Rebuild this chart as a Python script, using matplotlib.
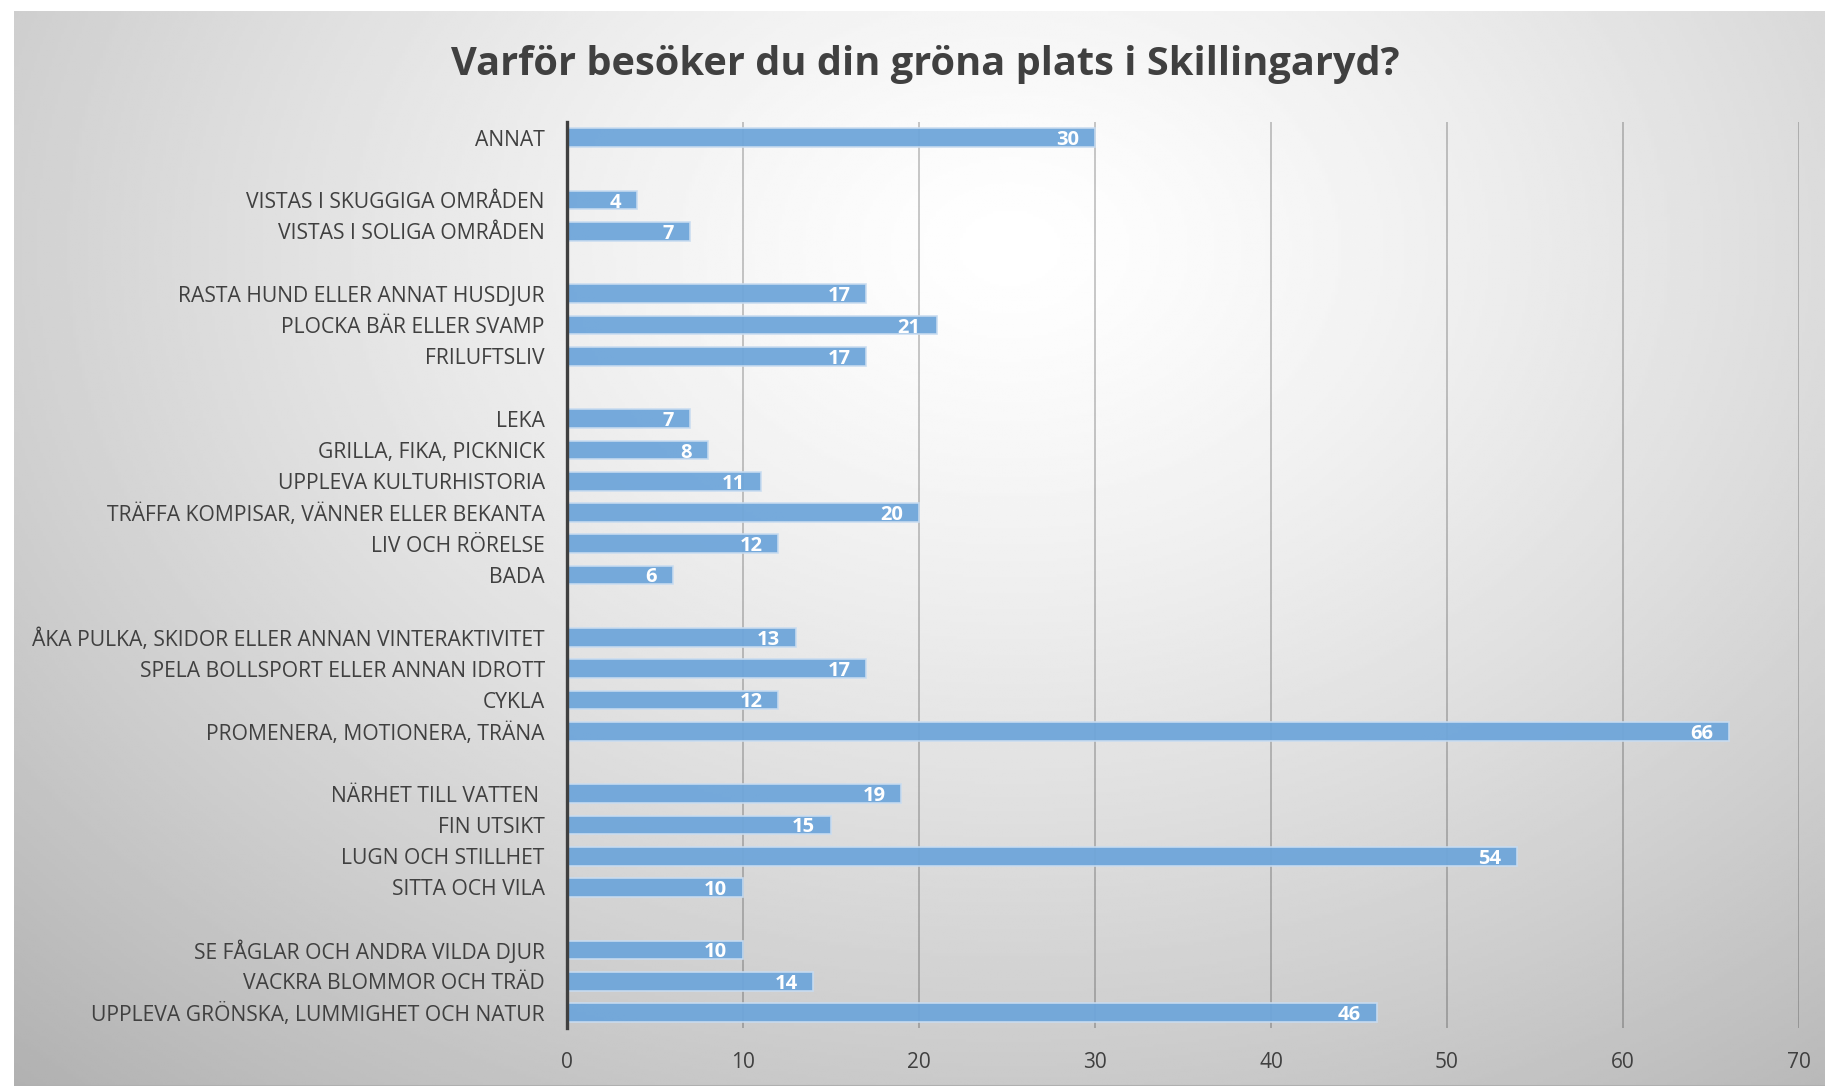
import numpy as np
import matplotlib.pyplot as plt

# rows from top to bottom, '' = empty spacer row
categories = [
    'ANNAT', '',
    'VISTAS I SKUGGIGA OMRÅDEN', 'VISTAS I SOLIGA OMRÅDEN', '',
    'RASTA HUND ELLER ANNAT HUSDJUR', 'PLOCKA BÄR ELLER SVAMP', 'FRILUFTSLIV', '',
    'LEKA', 'GRILLA, FIKA, PICKNICK', 'UPPLEVA KULTURHISTORIA',
    'TRÄFFA KOMPISAR, VÄNNER ELLER BEKANTA', 'LIV OCH RÖRELSE', 'BADA', '',
    'ÅKA PULKA, SKIDOR ELLER ANNAN VINTERAKTIVITET', 'SPELA BOLLSPORT ELLER ANNAN IDROTT',
    'CYKLA', 'PROMENERA, MOTIONERA, TRÄNA', '',
    'NÄRHET TILL VATTEN ', 'FIN UTSIKT', 'LUGN OCH STILLHET', 'SITTA OCH VILA', '',
    'SE FÅGLAR OCH ANDRA VILDA DJUR', 'VACKRA BLOMMOR OCH TRÄD', 'UPPLEVA GRÖNSKA, LUMMIGHET OCH NATUR',
]
values = [
    30, None,
    4, 7, None,
    17, 21, 17, None,
    7, 8, 11, 20, 12, 6, None,
    13, 17, 12, 66, None,
    19, 15, 54, 10, None,
    10, 14, 46,
]
xticks = [0, 10, 20, 30, 40, 50, 60, 70]
title = 'Varför besöker du din gröna plats i Skillingaryd?'

plt.rcParams['font.family'] = ['Open Sans', 'DejaVu Sans']
W, H = 1825, 1086
fig = plt.figure(figsize=(W / 100, H / 100), dpi=100)
fig.patch.set_facecolor('white')

# radial gradient background
bg = fig.add_axes([14 / W, 0, 1 - 14 / W, (H - 11) / H], zorder=0)
bg.axis('off')
gx, gy = np.meshgrid(np.linspace(0, 1, 600), np.linspace(0, 1, 400))
d = np.sqrt(((gx - 0.55) / 0.75) ** 2 + ((gy - 0.22) / 0.95) ** 2)
shade = 1 - 0.27 * np.clip(d, 0, 1.2) ** 1.3
bg.imshow(shade, cmap='gray', vmin=0, vmax=1, aspect='auto', extent=(0, 1, 1, 0))
bg.axhline(1, color='#b0b0b0', lw=1.5)

ax = fig.add_axes([567 / W, 1 - 1028 / H, (1799 - 567) / W, (1028 - 122) / H], zorder=1)
ax.patch.set_alpha(0)

ypos = np.arange(len(categories))
for y, v in zip(ypos, values):
    if v is None:
        continue
    ax.barh(y, v, height=0.6, color='#6fa6da', edgecolor='#c9dcf0', linewidth=1.2, alpha=0.95, zorder=2)
    ax.text(v - 0.9, y + 0.08, str(v), ha='right', va='center', color='white',
            fontsize=14.5, fontweight='bold', zorder=3)

ax.set_ylim(len(categories) - 0.5, -0.5)
ax.set_xlim(0, 70)
ax.set_yticks(ypos)
ax.set_yticklabels(categories, fontsize=15.2, color='#404040')
ax.set_xticks(xticks)
ax.set_xticklabels([str(t) for t in xticks], fontsize=15, color='#404040')
ax.tick_params(axis='y', length=0, pad=16)
ax.tick_params(axis='x', length=0, pad=17)
ax.grid(axis='x', color='black', alpha=0.25, lw=1.2, zorder=1)
ax.set_axisbelow(True)
for s in ['top', 'right', 'bottom']:
    ax.spines[s].set_visible(False)
ax.spines['left'].set_color('#404040')
ax.spines['left'].set_linewidth(2.4)
ax.spines['left'].set_zorder(4)

fig.text(0.507, 1 - 65 / H, title, ha='center', va='center', fontsize=28.6,
         fontweight='bold', color='#404040')

fig.savefig('out.png', dpi=100)
